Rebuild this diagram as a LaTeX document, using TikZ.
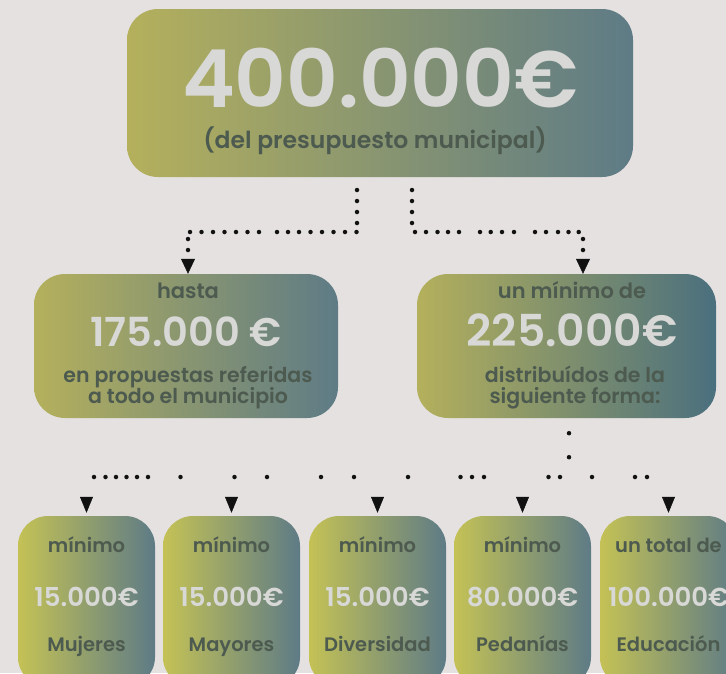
\documentclass[tikz,border=0pt]{standalone}
\usepackage{fontspec}
\IfFontExistsTF{Poppins SemiBold}{\setmainfont{Poppins}[BoldFont={Poppins SemiBold}]}{\setmainfont{Poppins}[BoldFont={Poppins}, BoldFeatures={FakeBold=2}]}
\usepackage{tikz}
\usetikzlibrary{calc}
\usetikzlibrary{positioning}
\usetikzlibrary{arrows.meta}
\usepackage{xcolor}
\definecolor{paper}{HTML}{E5E1E0}
\definecolor{olive}{HTML}{B4B05C}
\definecolor{lime}{HTML}{C4C255}
\definecolor{slate}{HTML}{5E7B86}
\definecolor{deepslate}{HTML}{4A6F7E}
\definecolor{ink}{HTML}{111111}
\definecolor{light}{HTML}{D8D8D6}
\definecolor{moss}{HTML}{4D5A4F}
\tikzstyle{panel} = [rounded corners=31pt, inner sep=0pt, left color=olive, right color=slate]
\tikzstyle{leaf} = [panel, rounded corners=30pt, left color=lime, minimum width=137pt, minimum height=171pt]
\tikzstyle{dots} = [draw=ink, line width=4.5pt, line cap=round, dash pattern=on 0pt off 11pt]
\tikzstyle{tip} = [-{Triangle[width=14pt,length=15pt,line width=0.5pt]}]
\tikzstyle{drop} = [draw=ink, line width=0.3pt, shorten >=3pt, -{Triangle[width=13pt,length=16pt,line width=0.5pt]}]
\tikzstyle{brokenL} = [dots, dash pattern=on 0pt off 11pt on 0pt off 11pt on 0pt off 11pt on 0pt off 9.5pt on 0pt off 11.5pt on 0pt off 11.5pt on 0pt off 11.5pt on 0pt off 11.5pt on 0pt off 11.5pt on 0pt off 11pt on 0pt off 11pt on 0pt off 18pt on 0pt off 11.5pt on 0pt off 11.5pt on 0pt off 11.5pt on 0pt off 11.5pt on 0pt off 11.5pt on 0pt off 11.5pt on 0pt off 9pt on 0pt off 11pt on 0pt off 40pt]
\tikzstyle{brokenR} = [dots, dash pattern=on 0pt off 11pt on 0pt off 11pt on 0pt off 11pt on 0pt off 12pt on 0pt off 11pt on 0pt off 11.5pt on 0pt off 10.5pt on 0pt off 11pt on 0pt off 21pt on 0pt off 10.7pt on 0pt off 11.3pt on 0pt off 12pt on 0pt off 21pt on 0pt off 11pt on 0pt off 12pt on 0pt off 10.5pt on 0pt off 10.2pt on 0pt off 11.3pt on 0pt off 11pt on 0pt off 40pt]
\tikzstyle{broken} = [dots, dash pattern=on 0pt off 11.5pt on 0pt off 10.5pt on 0pt off 10.5pt on 0pt off 10.5pt on 0pt off 11pt on 0pt off 32.5pt on 0pt off 54pt on 0pt off 32.5pt on 0pt off 54pt on 0pt off 33pt on 0pt off 54pt on 0pt off 52.5pt on 0pt off 11.5pt on 0pt off 12pt on 0pt off 64.5pt on 0pt off 11.5pt on 0pt off 32pt on 0pt off 43pt on 0pt off 12pt on 0pt off 20pt]
\tikzstyle{sum} = [text=light, inner sep=0pt, anchor=base, font=\bfseries\fontsize{80}{80}\selectfont]
\tikzstyle{amt} = [text=light, inner sep=0pt, anchor=base, font=\bfseries\fontsize{42}{42}\selectfont]
\tikzstyle{cash} = [text=light, inner sep=0pt, anchor=base, font=\bfseries\fontsize{26}{26}\selectfont]
\tikzstyle{note} = [text=moss, inner sep=0pt, anchor=base, font=\bfseries\fontsize{21}{21}\selectfont]
\tikzstyle{tag} = [text=moss, inner sep=0pt, anchor=base, font=\bfseries\fontsize{19.5}{19.5}\selectfont]

\begin{document}
\begin{tikzpicture}[x=1pt, y=-1pt]
      \fill[paper] (0,0) rectangle (726,673);
      \useasboundingbox (0,0) rectangle (726,673);
      \clip (0,0) rectangle (726,673);
      % top box
      \node[panel, minimum width=506pt, minimum height=168pt] (total) at (380,93) {};
      \node[sum] (totalsum) at (380,107) {400.000€};
      \node[note, font=\bfseries\fontsize{23.5}{23.5}\selectfont] (totalnote) at (375,148) {(del presupuesto municipal)};
      % second row
      \node[panel, minimum width=304pt, minimum height=144pt] (city) at (186,346) {};
      \node[note] at (188,298) {hasta};
      \node[amt, font=\bfseries\fontsize{40}{40}\selectfont] at (186,346) {175.000 €};
      \node[note, font=\bfseries\fontsize{20.5}{20.5}\selectfont] at (188,382) {en propuestas referidas};
      \node[note, font=\bfseries\fontsize{20.5}{20.5}\selectfont] at (188,403) {a todo el municipio};
      \node[panel, right color=deepslate, minimum width=299pt, minimum height=144pt] (split) at (566.5,346) {};
      \node[note] at (572,298) {un mínimo de};
      \node[amt, font=\bfseries\fontsize{44}{44}\selectfont] at (572,346) {225.000€};
      \node[note, font=\bfseries\fontsize{20.5}{20.5}\selectfont] at (575,382) {distribuídos de la};
      \node[note, font=\bfseries\fontsize{20.5}{20.5}\selectfont] at (575,403) {siguiente forma:};
      % bottom row
      \foreach \i/\x/\head/\sum/\what in {1/86.5/mínimo/15.000€/Mujeres, 2/231.5/mínimo/15.000€/Mayores, 3/377.5/mínimo/15.000€/Diversidad, 4/522.5/mínimo/80.000€/Pedanías, 5/668.5/un total de/100.000€/Educación}{
        \node[leaf] (leaf\i) at (\x,601.5) {};
        \node[tag] at ($(leaf\i.north)+(0,37)$) {\head};
        \node[cash] at ($(leaf\i.north)+(0,91)$) {\sum};
        \node[tag] at ($(leaf\i.north)+(0,136)$) {\what};
        \draw[drop] ($(leaf\i.north)+(0,-19)$) -- (leaf\i.north);
      }
      % connectors
      \coordinate (outL) at (357,190);
      \coordinate (kneeL) at (188,232);
      \coordinate (outR) at (412,190);
      \coordinate (kneeR) at (583,232);
      \draw[brokenL, tip] (outL) |- (kneeL) -- (kneeL |- city.north);
      \draw[brokenR, tip] (outR) |- (kneeR) -- (kneeR |- split.north);
      \coordinate (hub) at (569,477);
      \coordinate (rowW) at (94,477);
      \coordinate (rowE) at (648,477);
      \draw[dots, dash pattern=on 0pt off 24pt, dash phase=9pt] (split.south -| hub) -- (hub);
      \draw[broken] (rowW) -- (rowE);
\end{tikzpicture}
\end{document}
